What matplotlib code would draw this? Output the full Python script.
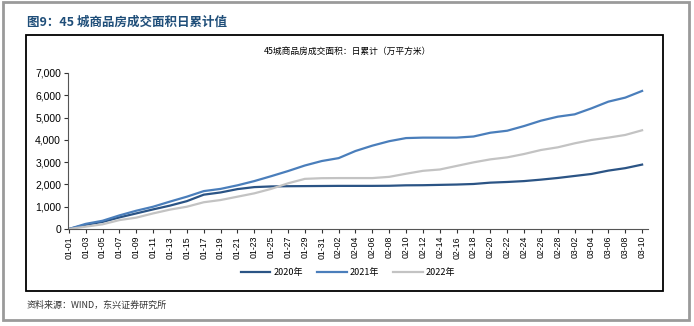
import numpy as np
import matplotlib
matplotlib.use('Agg')
import matplotlib.pyplot as plt
from matplotlib.patches import Rectangle
from matplotlib.lines import Line2D

plt.rcParams['font.family'] = ['Liberation Sans', 'Noto Sans CJK SC', 'DejaVu Sans']

# ── Data: cumulative daily transaction area, 45 cities (10k m2) ────
# one value every 2 days from 01-01 to 03-10
tick_labels = ['01-01', '01-03', '01-05', '01-07', '01-09', '01-11', '01-13', '01-15',
               '01-17', '01-19', '01-21', '01-23', '01-25', '01-27', '01-29', '01-31',
               '02-02', '02-04', '02-06', '02-08', '02-10', '02-12', '02-14', '02-16',
               '02-18', '02-20', '02-22', '02-24', '02-26', '02-28', '03-02', '03-04',
               '03-06', '03-08', '03-10']
day_idx = np.arange(0, 69, 2)

v2020 = [0, 190, 320, 520, 700, 880, 1050, 1250, 1540, 1640, 1790, 1880, 1910, 1920,
         1925, 1930, 1935, 1935, 1935, 1940, 1960, 1965, 1980, 1995, 2020, 2080, 2110,
         2150, 2215, 2290, 2380, 2470, 2620, 2730, 2890]
v2021 = [0, 230, 370, 610, 820, 1000, 1230, 1450, 1700, 1800, 1960, 2150, 2370, 2600,
         2850, 3050, 3180, 3500, 3740, 3940, 4080, 4100, 4100, 4100, 4150, 4320, 4410,
         4620, 4860, 5040, 5145, 5415, 5715, 5895, 6195]
v2022 = [0, 105, 210, 400, 510, 700, 870, 1000, 1200, 1300, 1450, 1600, 1800, 2050,
         2250, 2280, 2285, 2285, 2285, 2340, 2480, 2610, 2670, 2830, 2990, 3125, 3215,
         3365, 3545, 3665, 3845, 3995, 4100, 4220, 4430]

series = [('2020年', v2020, '#2B5485'),
          ('2021年', v2021, '#4A7EBB'),
          ('2022年', v2022, '#C3C3C3')]

W, H = 694, 326
fig = plt.figure(figsize=(W / 100, H / 100), dpi=100)

# ── Frames ────────────────────────────────────────────────────────
def px_rect(x0, y0, x1, y1, **kw):
    fig.patches.append(Rectangle((x0 / W, 1 - y1 / H), (x1 - x0) / W, (y1 - y0) / H,
                                 transform=fig.transFigure, fill=False, **kw))

px_rect(3, 2, 689, 320, edgecolor='#9a9a9a', linewidth=2.0)
px_rect(26, 35, 663, 291, edgecolor='black', linewidth=1.3)

fig.text(27 / W, 1 - 22 / H, '图9：45 城商品房成交面积日累计值', fontsize=9, fontweight='bold',
         color='#1F4E79', ha='left', va='center',
         family=['Noto Sans CJK SC', 'DejaVu Sans'])
fig.text(347 / W, 1 - 51 / H, '45城商品房成交面积：日累计（万平方米）', fontsize=6.3,
         ha='center', va='center', family=['Noto Sans CJK SC', 'DejaVu Sans'])
fig.text(27 / W, 1 - 305 / H, '资料来源：WIND，东兴证券研究所', fontsize=6.5,
         color='#333333', ha='left', va='center', style='italic',
         family=['Noto Sans CJK SC', 'DejaVu Sans'])

# ── Axes ──────────────────────────────────────────────────────────
ax = fig.add_axes([68 / W, 1 - 229 / H, 580 / W, 156 / H])
for name, vals, col in series:
    ax.plot(day_idx, vals, color=col, linewidth=1.6, label=name, solid_joinstyle='round')

ax.set_xlim(-0.1, 68.7)
ax.set_ylim(0, 7000)
ax.set_yticks(np.arange(0, 7001, 1000))
ax.set_yticklabels([f'{v:,}' for v in range(0, 7001, 1000)], fontsize=7.5)
ax.set_xticks(day_idx)
ax.set_xticklabels(tick_labels, rotation=90, fontsize=6.3)
ax.tick_params(axis='both', length=3, width=0.8, color='#333333', pad=2)
for s in ['top', 'right']:
    ax.spines[s].set_visible(False)
for s in ['left', 'bottom']:
    ax.spines[s].set_color('#555555')
    ax.spines[s].set_linewidth(0.8)

leg = fig.legend(loc='center', bbox_to_anchor=(348 / W, 1 - 273 / H), ncol=3, frameon=False,
                 fontsize=6.5, handlelength=3.3, handletextpad=0.3, columnspacing=1.6,
                 prop={'family': ['Noto Sans CJK SC', 'DejaVu Sans'], 'size': 6.5})

fig.savefig('out.png', dpi=100)
